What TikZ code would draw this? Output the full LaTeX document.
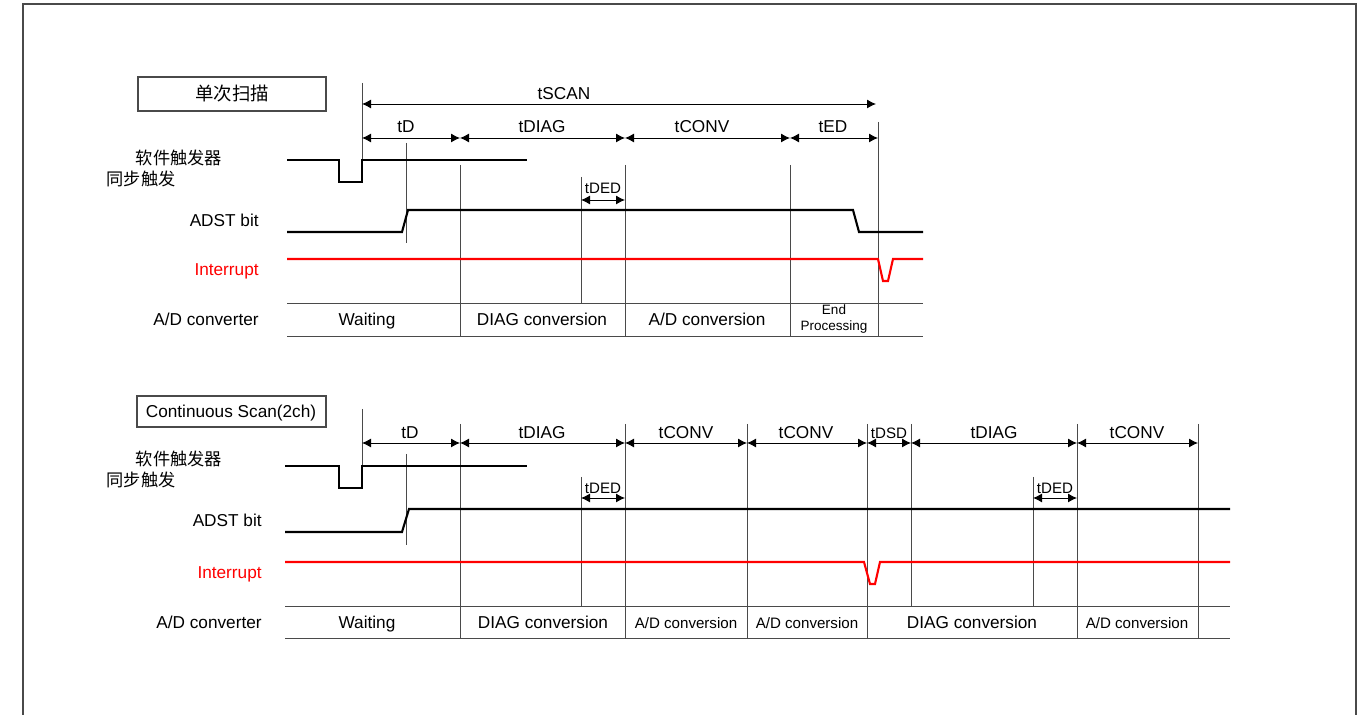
\documentclass[tikz,border=0pt]{standalone}
\usepackage{fontspec}
\setmainfont{Liberation Sans}
\newfontfamily\cjk{Noto Sans CJK SC}
\usetikzlibrary{arrows.meta}
\definecolor{tdgray}{HTML}{4A4A4A}
\definecolor{tdred}{HTML}{FF0000}

\begin{document}
\begin{tikzpicture}[x=0.02cm, y=-0.02cm,
  every node/.style={font=\fontsize{9.8}{11}\selectfont, inner sep=0pt,
    text height=7pt, text depth=0pt},
  sig/.style={black, line width=1.2pt},
  irq/.style={tdred, line width=1.2pt},
  grid/.style={tdgray, line width=0.55pt},
  dim/.style={black, line width=0.55pt,
    {Latex[length=1.8mm,width=1.8mm]}-{Latex[length=1.8mm,width=1.8mm]}},
  rowlbl/.style={anchor=east},
  smalltxt/.style={font=\fontsize{8.6}{9}\selectfont},
  titlebox/.style={draw=tdgray, line width=0.6pt}]

  \useasboundingbox (0,0) rectangle (1370,715);

  % ---- Frame ----
  \draw[tdgray, line width=0.8pt] (23,715) -- (23,4) -- (1356,4) -- (1356,715);

  % ============ SINGLE SCAN (top) ============

  \draw[titlebox] (138,77) rectangle (326,111);
  \node[font=\cjk\fontsize{10.5}{12}\selectfont] (titleA) at (232,94) {单次扫描};

  % Row labels
  \node[font=\cjk\fontsize{9.8}{11}\selectfont] (trigA1) at (179,158) {软件触发器};
  \node[font=\cjk\fontsize{9.8}{11}\selectfont] (trigA2) at (141,179) {同步触发};
  \node[rowlbl] (adstA) at (259,220) {ADST bit};
  \node[rowlbl, text=tdred] (irqA) at (259,269) {Interrupt};
  \node[rowlbl] (adcA) at (259,319) {A/D converter};

  % Grid lines
  \draw[grid] (362,83) -- (362,160);
  \draw[grid] (406,143) -- (406,243);
  \foreach \x in {460,625,790} \draw[grid] (\x,165) -- (\x,336);
  \draw[grid] (878,122) -- (878,336);
  \draw[grid] (581,177) -- (581,303);
  \draw[grid] (287,303) -- (923,303);
  \draw[grid] (287,336) -- (923,336);

  % Signals
  \draw[sig] (287,160) -- (339,160) -- (339,182) -- (362,182) -- (362,160) -- (527,160);
  \draw[sig] (287,232) -- (402,232) -- (408,210) -- (853,210) -- (859,232) -- (923,232);
  \draw[irq] (287,259) -- (878,259) -- (883,281) -- (888,281) -- (893,259) -- (923,259);

  % Timing arrows
  \draw[dim] (362,104) -- (876,104);
  \node (tscanA) at (564,93) {tSCAN};
  \draw[dim] (362,138) -- (460,138);
  \draw[dim] (460,138) -- (625,138);
  \draw[dim] (625,138) -- (790,138);
  \draw[dim] (790,138) -- (878,138);
  \node (tdA) at (406,126) {tD};
  \node (tdiagA) at (542,126) {tDIAG};
  \node (tconvA) at (702,126) {tCONV};
  \node (tedA) at (833,126) {tED};
  \draw[dim] (581,200) -- (625,200);
  \node[smalltxt] (tdedA) at (603,187) {tDED};

  % A/D converter states
  \node (waitA) at (367,319) {Waiting};
  \node (diagA) at (542,319) {DIAG conversion};
  \node (convA) at (707,319) {A/D conversion};
  \node[font=\fontsize{7.7}{8.6}\selectfont, align=center, text height=,
    text depth=] (endA) at (834,319) {End\\Processing};

  % ============ CONTINUOUS SCAN (bottom) ============

  \draw[titlebox] (137,396) rectangle (326,427);
  \node (titleB) at (231,411) {Continuous Scan(2ch)};

  % Row labels
  \node[font=\cjk\fontsize{9.8}{11}\selectfont] (trigB1) at (179,459) {软件触发器};
  \node[font=\cjk\fontsize{9.8}{11}\selectfont] (trigB2) at (141,480) {同步触发};
  \node[rowlbl] (adstB) at (262,520) {ADST bit};
  \node[rowlbl, text=tdred] (irqB) at (262,572) {Interrupt};
  \node[rowlbl] (adcB) at (262,622) {A/D converter};

  % Grid lines
  \draw[grid] (362,409) -- (362,466);
  \draw[grid] (406,454) -- (406,545);
  \foreach \x in {460,625,747,867,1077,1198} \draw[grid] (\x,424) -- (\x,638);
  \draw[grid] (911,424) -- (911,606);
  \draw[grid] (581,477) -- (581,606);
  \draw[grid] (1033,477) -- (1033,606);
  \draw[grid] (285,606) -- (1230,606);
  \draw[grid] (285,638) -- (1230,638);

  % Signals
  \draw[sig] (285,466) -- (339,466) -- (339,488) -- (362,488) -- (362,466) -- (527,466);
  \draw[sig] (285,532) -- (402,532) -- (409,509) -- (1230,509);
  \draw[irq] (285,562) -- (864,562) -- (870,584) -- (875,584) -- (880,562) -- (1230,562);

  % Timing arrows
  \foreach \a/\b in {362/460,460/625,625/747,747/867,867/911,911/1077,1077/1198}
    \draw[dim] (\a,443) -- (\b,443);
  \node (tdB) at (410,432) {tD};
  \node (tdiagB1) at (542,432) {tDIAG};
  \node (tconvB1) at (686,432) {tCONV};
  \node (tconvB2) at (806,432) {tCONV};
  \node[smalltxt] (tdsdB) at (889,432) {tDSD};
  \node (tdiagB2) at (994,432) {tDIAG};
  \node (tconvB3) at (1137,432) {tCONV};
  \draw[dim] (581,498) -- (625,498);
  \node[smalltxt] (tdedB1) at (603,487) {tDED};
  \draw[dim] (1033,498) -- (1077,498);
  \node[smalltxt] (tdedB2) at (1055,487) {tDED};

  % A/D converter states
  \node (waitB) at (367,622) {Waiting};
  \node (diagB1) at (543,622) {DIAG conversion};
  \node[smalltxt] (convB1) at (686,622) {A/D conversion};
  \node[smalltxt] (convB2) at (807,622) {A/D conversion};
  \node (diagB2) at (972,622) {DIAG conversion};
  \node[smalltxt] (convB3) at (1137,622) {A/D conversion};

\end{tikzpicture}
\end{document}
